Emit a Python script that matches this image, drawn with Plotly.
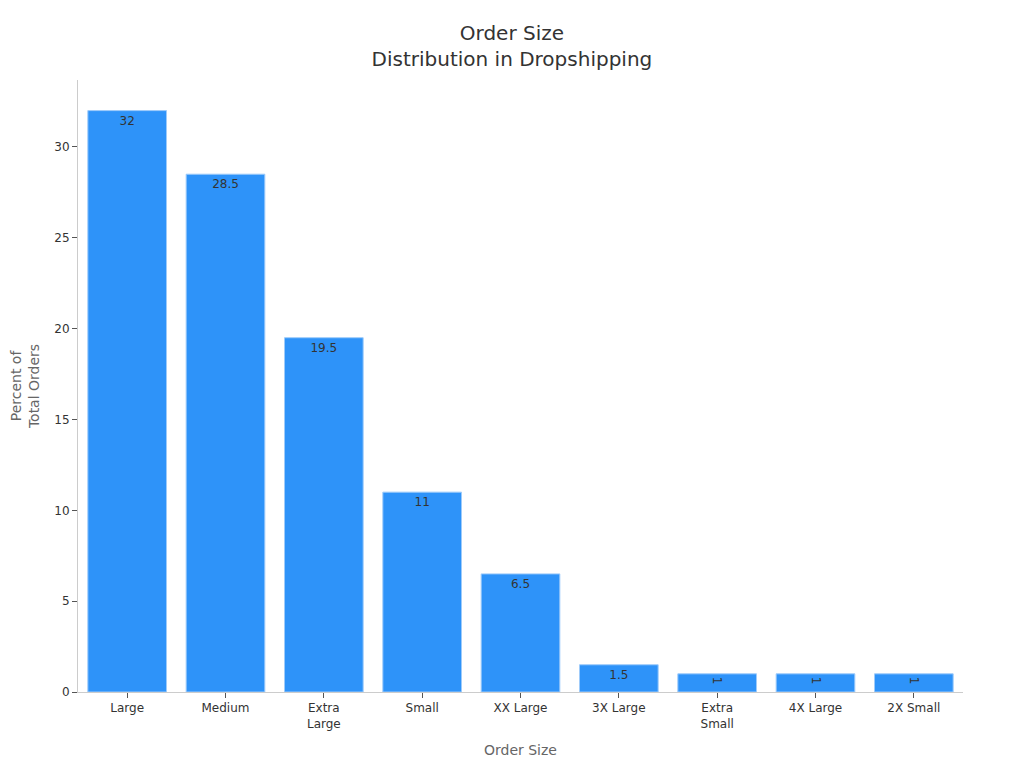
import plotly.graph_objects as go

categories = ["Large", "Medium", "Extra<br>Large", "Small", "XX Large",
              "3X Large", "Extra<br>Small", "4X Large", "2X Small"]
percent_of_orders = [32, 28.5, 19.5, 11, 6.5, 1.5, 1, 1, 1]

fig = go.Figure()

fig.add_trace(go.Bar(
    x=categories,
    y=percent_of_orders,
    text=percent_of_orders,
    textposition="inside",
    insidetextanchor="end",
    textfont=dict(color="#333333", size=12),
    marker=dict(color="#2E93F9", line=dict(color="#9ECBFA", width=1)),
    showlegend=False,
))

fig.update_layout(
    title=dict(
        text="Order Size<br>Distribution in Dropshipping",
        x=0.496,
        xanchor="center",
        y=0.958,
        font=dict(size=20, color="#333333"),
    ),
    font=dict(family="DejaVu Sans", size=12, color="#333333"),
    width=1016,
    height=760,
    plot_bgcolor="white",
    paper_bgcolor="white",
    bargap=0.2,
    margin=dict(l=70, r=61, t=72, b=76),
    xaxis=dict(
        title=dict(text="Order Size", font=dict(size=14, color="#666666")),
        showline=True,
        linecolor="#CCCCCC",
        ticks="outside",
        ticklen=5,
        tickcolor="#555555",
        showgrid=False,
        automargin=False,
    ),
    yaxis=dict(
        title=dict(text="Percent of<br>Total Orders", font=dict(size=14, color="#666666")),
        showline=True,
        linecolor="#CCCCCC",
        ticks="outside",
        ticklen=5,
        tickcolor="#555555",
        showgrid=False,
        zeroline=False,
        dtick=5,
        automargin=False,
    ),
)

fig.write_html("out.html")
